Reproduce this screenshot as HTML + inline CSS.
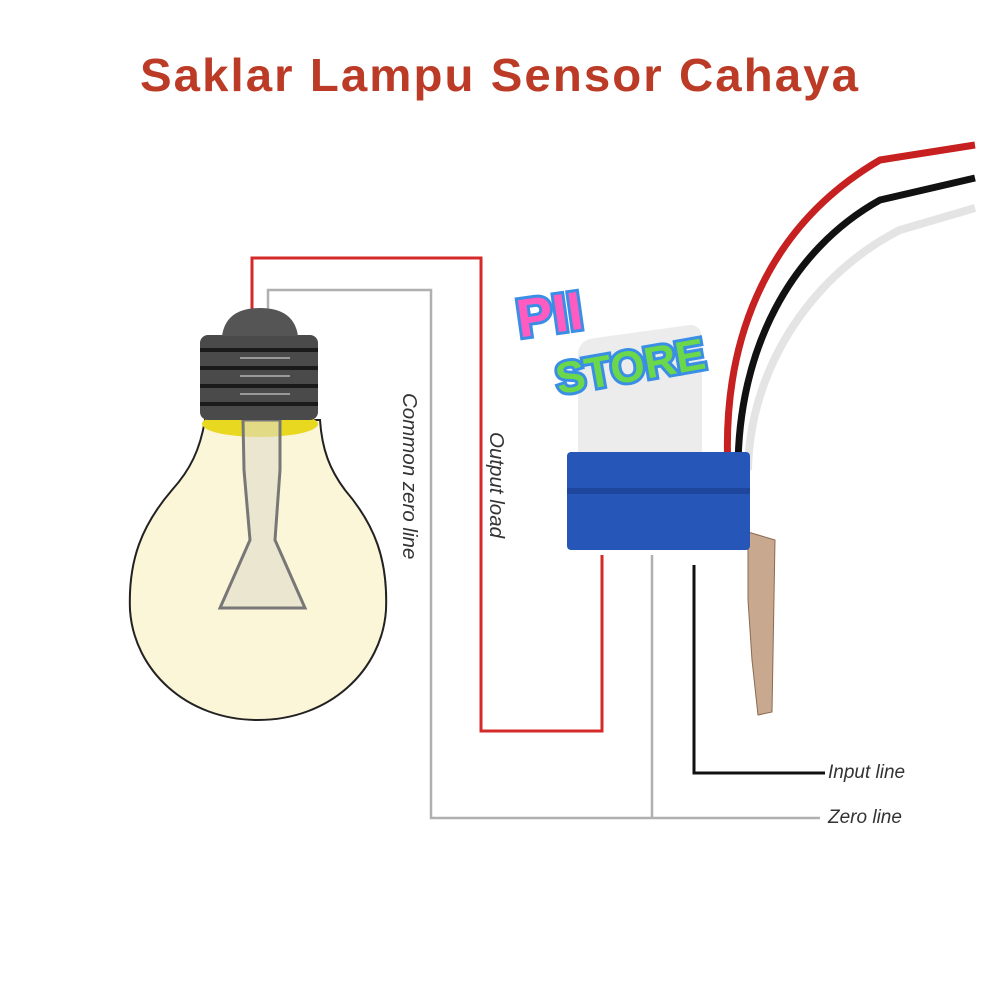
<!DOCTYPE html>
<html><head><meta charset="utf-8"><style>
html,body{margin:0;padding:0;background:#fff;width:1000px;height:1000px;overflow:hidden}
</style></head><body>
<svg width="1000" height="1000" viewBox="0 0 1000 1000" xmlns="http://www.w3.org/2000/svg" font-family="Liberation Sans, sans-serif">
<rect width="1000" height="1000" fill="#fff"/>
<text x="500" y="91" text-anchor="middle" font-size="46" font-weight="bold" fill="#bb3b26" letter-spacing="2" textLength="720" lengthAdjust="spacingAndGlyphs">Saklar Lampu Sensor Cahaya</text>
<!-- wires -->
<polyline points="252,312 252,258 481,258 481,731 602,731 602,555" fill="none" stroke="#d42a2a" stroke-width="3"/>
<polyline points="268,312 268,290 431,290 431,818 820,818" fill="none" stroke="#b0b0b0" stroke-width="2.5"/>
<line x1="652" y1="555" x2="652" y2="818" stroke="#b0b0b0" stroke-width="2.5"/>
<polyline points="694,565 694,773 825,773" fill="none" stroke="#111" stroke-width="3"/>
<text x="828" y="778" font-size="19" font-style="italic" fill="#333">Input line</text>
<text x="828" y="823" font-size="19" font-style="italic" fill="#333">Zero line</text>
<text transform="translate(403,393) rotate(90)" font-size="20.5" font-style="italic" fill="#333">Common zero line</text>
<text transform="translate(490,432) rotate(90)" font-size="20.5" font-style="italic" fill="#333">Output load</text>
<!-- bulb -->
<path d="M205,420 L320,420 C322,450 330,470 345,490 C375,525 388,560 386,610 C382,670 330,720 258,720 C186,720 134,670 130,610 C128,560 142,525 172,490 C190,470 200,450 205,420 Z" fill="#fcf6d8" stroke="#222" stroke-width="2"/>
<ellipse cx="260" cy="424" rx="58" ry="13" fill="#e8d820"/>
<path d="M243,420 L244,470 L250,540 L220,608 L305,608 L275,540 L280,470 L280,420 Z" fill="#e0dccc" fill-opacity="0.6" stroke="#777" stroke-width="3"/>
<rect x="200" y="335" width="118" height="85" rx="8" fill="#4a4a4a"/>
<g stroke="#1a1a1a" stroke-width="4"><line x1="200" y1="350" x2="318" y2="350"/><line x1="200" y1="368" x2="318" y2="368"/><line x1="200" y1="386" x2="318" y2="386"/><line x1="200" y1="404" x2="318" y2="404"/></g>
<g stroke="#999" stroke-width="2"><line x1="240" y1="358" x2="290" y2="358"/><line x1="240" y1="376" x2="290" y2="376"/><line x1="240" y1="394" x2="290" y2="394"/></g>
<path d="M222,336 Q226,308 260,308 Q294,308 298,336 Z" fill="#555"/>
<!-- sensor wires -->
<path d="M728,470 C722,350 760,230 880,160 L975,145" fill="none" stroke="#c62020" stroke-width="7"/>
<path d="M738,470 C738,350 790,250 880,200 L975,178" fill="none" stroke="#111" stroke-width="7"/>
<path d="M748,470 C750,360 820,270 900,230 L975,208" fill="none" stroke="#e4e4e4" stroke-width="8"/>
<!-- bracket -->
<path d="M748,532 L775,540 L772,712 L758,715 L752,660 L748,600 Z" fill="#c9a890" stroke="#8a6a50"/>
<!-- sensor -->
<path d="M578,355 Q578,340 595,338 L690,325 Q702,325 702,340 L702,470 L578,470 Z" fill="#ececec"/>
<rect x="567" y="452" width="183" height="98" rx="4" fill="#2556b8"/>
<rect x="567" y="488" width="183" height="6" fill="#1d469c"/>
<!-- logo -->
<g font-weight="bold" font-family="Liberation Sans, sans-serif" stroke="#3a8ee6" stroke-width="6" paint-order="stroke">
<text x="516" y="333" font-size="54" fill="#ff5bc0" transform="rotate(-8 550 310)">PII</text>
<text x="552" y="382" font-size="44" fill="#6ad84a" transform="rotate(-10 625 350)">STORE</text>
</g>
</svg>
</body></html>
